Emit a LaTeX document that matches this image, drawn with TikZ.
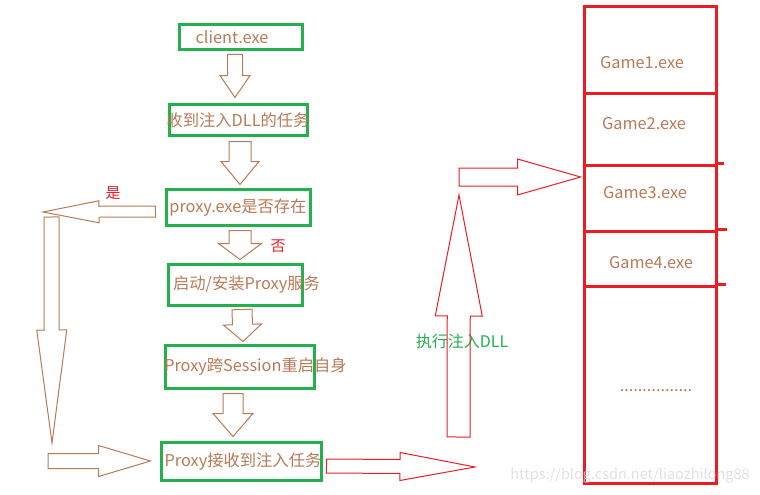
\documentclass[tikz,border=0pt]{standalone}
\usepackage{fontspec}
\setmainfont{Noto Sans CJK SC}
\usetikzlibrary{calc}

\definecolor{pgreen}{HTML}{22B14C}
\definecolor{pred}{HTML}{ED1C24}
\definecolor{pbrown}{HTML}{B97A57}

% hollow block arrow: style, tail, tip, shaft half width, head half width, head length
\newcommand{\blockarrow}[6]{%
  \draw[#1] let \p1=#2, \p2=#3,
    \n1={atan2(\y2-\y1,\x2-\x1)}, \n2={veclen(\x2-\x1,\y2-\y1)} in
    [shift={(\p1)}, rotate=\n1]
    (0pt,{-#4pt}) -- ({\n2-#6pt},{-#4pt}) -- ({\n2-#6pt},{-#5pt})
    -- (\n2,0pt) -- ({\n2-#6pt},{#5pt}) -- ({\n2-#6pt},{#4pt})
    -- (0pt,{#4pt}) -- cycle;}
% text centred on the box, shifted by half of #1
\newcommand{\boxlabel}[2]{\makebox[0pt]{\hspace*{#1}#2}}

\begin{document}
\begin{tikzpicture}[x=1pt,y=-1pt,
stepnode/.style={draw=pgreen, line width=3pt, inner sep=0pt, text=pbrown, font=\fontsize{16.3}{19}\selectfont},
gamecell/.style={draw=pred, line width=3pt, minimum width=132pt, inner sep=0pt},
gamelabel/.style={text=pbrown, font=\fontsize{16.3}{19}\selectfont},
brownarrow/.style={draw=pbrown, line width=1pt},
redarrow/.style={draw=pred, line width=1pt},
]
\useasboundingbox (0,0) rectangle (760,495);

%Nodes
\node[stepnode, minimum width=123pt, minimum height=25pt] (client) at (241,37)    {\boxlabel{-18pt}{client.exe}};
\node[stepnode, minimum width=138pt, minimum height=31pt] (recv)   at (238.5,120) {\boxlabel{-1pt}{收到注入DLL的任务}};
\node[stepnode, minimum width=144pt, minimum height=36pt] (proxy)  at (238.5,207.5) {\boxlabel{-1pt}{proxy.exe是否存在}};
\node[stepnode, minimum width=134pt, minimum height=41pt] (start)  at (235.5,285) {\boxlabel{22pt}{启动/安装Proxy服务}};
\node[stepnode, minimum width=149pt, minimum height=43pt] (cross)  at (240,367)   {\boxlabel{31pt}{Proxy跨Session重启自身}};
\node[stepnode, minimum width=160pt, minimum height=38pt] (task)   at (241.5,461.5) {\boxlabel{3pt}{Proxy接收到注入任务}};

\node[gamecell, minimum height=86.5pt] (cell1) at (650.5,49.75)  {};
\node[gamecell, minimum height=72pt]   (cell2) at (650.5,129)    {};
\node[gamecell, minimum height=66pt]   (cell3) at (650.5,198)    {};
\node[gamecell, minimum height=55pt]   (cell4) at (650.5,258.5)  {};
\node[gamecell, minimum height=197.5pt] (cell5) at (650.5,384.75) {};
\draw[pred, line width=3pt] (cell3.north east) -- ++(5.5,0);
\draw[pred, line width=3pt] (cell4.north east) -- ++(8.5,0);
\draw[pred, line width=3pt] (cell5.north east) -- ++(7.5,0);

\node[gamelabel] (game1) at (642,63)  {Game1.exe};
\node[gamelabel] (game2) at (644,124) {Game2.exe};
\node[gamelabel] (game3) at (645,193) {Game3.exe};
\node[gamelabel] (game4) at (651,263) {Game4.exe};
\node[gamelabel] (more)  at (656,391) {................};

\node[text=pred, font=\fontsize{15}{17}\selectfont] (yes) at (113,193) {是};
\node[text=pred, font=\fontsize{15}{17}\selectfont] (no)  at (278,246) {否};
\node[text=pgreen, font=\fontsize{16}{19}\selectfont] (inject) at (462,341) {执行注入DLL};

\coordinate (yesTip)   at (43,212);
\coordinate (downTail) at (51.5,217);
\coordinate (downTip)  at (52,443);
\coordinate (backTail) at (48,461);
\coordinate (outTip)   at (475,467);
\coordinate (upTail)   at (458.5,437);
\coordinate (upTip)    at (459,195);
\coordinate (rightTail) at (459,177);

%Lines
\blockarrow{brownarrow}{($(client.south)+(-6,3.5)$)}{($(recv.north)+(-3.5,-5.5)$)}{7.5}{15}{22}
\blockarrow{brownarrow}{($(recv.south)+(1.5,4.5)$)}{($(proxy.north)+(1.5,-3.5)$)}{11}{19}{23}
\blockarrow{brownarrow}{($(proxy.south)+(1.5,3.5)$)}{($(start.north)+(4.5,-3.5)$)}{11}{21.5}{16}
\blockarrow{brownarrow}{($(start.south)+(6.5,2.5)$)}{($(cross.north)+(3,-2.5)$)}{10}{19}{17}
\blockarrow{brownarrow}{($(cross.south)+(-7,3.5)$)}{($(task.north)+(-8.5,-4.5)$)}{10}{20}{23}
\blockarrow{brownarrow}{($(proxy.west)+(-9.5,4)$)}{(yesTip)}{5.5}{11}{56}
\blockarrow{brownarrow}{(downTail)}{(downTip)}{7.5}{15}{113}
\blockarrow{brownarrow}{(backTail)}{($(task.west)+(-9.5,-0.5)$)}{7.5}{15.5}{52}
\blockarrow{redarrow}{($(task.east)+(3.5,4.5)$)}{(outTip)}{7}{14}{75}
\blockarrow{redarrow}{(upTail)}{(upTip)}{11.5}{23.5}{121}
\blockarrow{redarrow}{(rightTail)}{($(cell3.west)+(-2.5,-21)$)}{9}{18}{63}

\node[text=gray!30, opacity=.8, font=\fontsize{14.5}{17}\selectfont] (mark) at (630,476) {https://blog.csdn.net/liaozhilong88};
\end{tikzpicture}
\end{document}
